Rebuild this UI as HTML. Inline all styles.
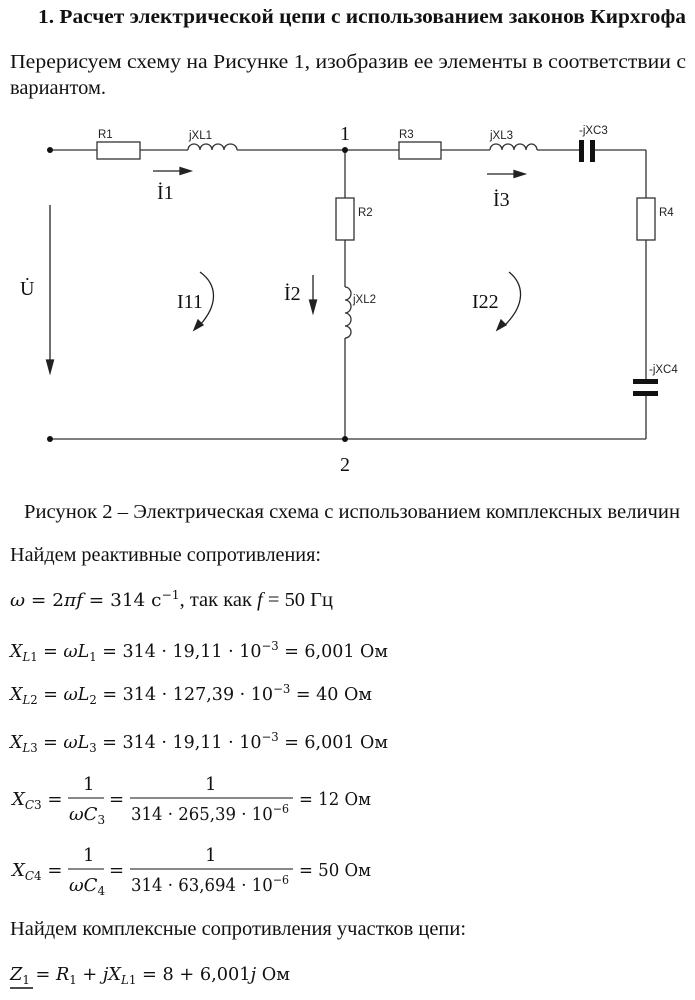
<!DOCTYPE html>
<html><head><meta charset="utf-8"><style>
html,body{margin:0;padding:0;background:#fff;width:695px;height:1000px;overflow:hidden}
svg{display:block}
.t{font-family:"Liberation Serif",serif;font-size:20px;fill:#111}
.m{font-family:"DejaVu Serif","Liberation Serif",serif;font-size:18px;fill:#111}
.s{font-family:"Liberation Sans",sans-serif;font-size:11.5px;fill:#222}
.w{stroke:#333;stroke-width:1.3;fill:none}
</style></head><body>
<svg width="695" height="1000" viewBox="0 0 695 1000">
<text class="t" x="38" y="23" font-weight="bold" textLength="648" lengthAdjust="spacingAndGlyphs">1.  Расчет электрической цепи с использованием законов Кирхгофа</text>
<text class="t" x="10" y="68" textLength="676" lengthAdjust="spacingAndGlyphs">Перерисуем  схему  на  Рисунке  1,  изобразив  ее  элементы  в  соответствии  с</text>
<text class="t" x="10" y="94" textLength="96" lengthAdjust="spacingAndGlyphs">вариантом.</text>

<g class="w">
<line x1="50" y1="150" x2="97" y2="150"/>
<rect x="97" y="142" width="43" height="17"/>
<line x1="140" y1="150" x2="188" y2="150"/>
<path d="M188 150 a6 6 0 0 1 12 0 a6 6 0 0 1 12 0 a6 6 0 0 1 12 0 a6.5 6 0 0 1 13 0"/>
<line x1="237" y1="150" x2="399" y2="150"/>
<rect x="399" y="142" width="42" height="17"/>
<line x1="441" y1="150" x2="490" y2="150"/>
<path d="M490 150 a6 6 0 0 1 12 0 a6 6 0 0 1 12 0 a6 6 0 0 1 12 0 a5.5 6 0 0 1 11 0"/>
<line x1="537" y1="150" x2="581" y2="150"/>
<line x1="592" y1="150" x2="646" y2="150"/>
<line x1="646" y1="150" x2="646" y2="198"/>
<rect x="637" y="198" width="18" height="42"/>
<line x1="646" y1="240" x2="646" y2="382"/>
<line x1="646" y1="394" x2="646" y2="439"/>
<line x1="50" y1="439" x2="646" y2="439"/>
<line x1="345" y1="150" x2="345" y2="198"/>
<rect x="336" y="198" width="18" height="42"/>
<line x1="345" y1="240" x2="345" y2="287"/>
<path d="M345 287 a6 6.5 0 0 1 0 13 a6 6.5 0 0 1 0 13 a6 6.5 0 0 1 0 13 a6 6 0 0 1 0 12"/>
<line x1="345" y1="338" x2="345" y2="439"/>
</g>
<rect x="579" y="140" width="5" height="22" fill="#111"/>
<rect x="590" y="140" width="5" height="22" fill="#111"/>
<rect x="633" y="379" width="25" height="5" fill="#111"/>
<rect x="633" y="391" width="25" height="5" fill="#111"/>
<circle cx="50" cy="150" r="3" fill="#111"/><circle cx="50" cy="439" r="3" fill="#111"/>
<circle cx="345" cy="150" r="3" fill="#111"/><circle cx="345" cy="439" r="3" fill="#111"/>

<text class="s" x="98" y="138">R1</text>
<text class="s" x="189" y="139">jXL1</text>
<text class="s" x="399" y="138">R3</text>
<text class="s" x="490" y="139">jXL3</text>
<text class="s" x="579" y="134">-jXC3</text>
<text class="s" x="358" y="216">R2</text>
<text class="s" x="659" y="216">R4</text>
<text class="s" x="353" y="303">jXL2</text>
<text class="s" x="649" y="373">-jXC4</text>
<text class="t" x="340" y="140" font-size="18">1</text>
<text class="t" x="340" y="471" font-size="18">2</text>

<g stroke="#222" stroke-width="1.3" fill="#222">
<line x1="153" y1="171" x2="180" y2="171"/><path d="M191 171 l-11 -3.5 v7z"/>
<line x1="487" y1="174" x2="514" y2="174"/><path d="M525 174 l-11 -3.5 v7z"/>
<line x1="50" y1="205" x2="50" y2="360"/><path d="M50 373 l-3.5 -13 h7z"/>
<line x1="313" y1="275" x2="313" y2="300"/><path d="M313 313 l-3.5 -13 h7z"/>
<path d="M200 272 C 218 285, 218 305, 200 325" fill="none"/><path d="M194 330 l4 -10 l5 5z"/>
<path d="M509 272 C 525 285, 525 305, 505 325" fill="none"/><path d="M497 330 l4 -10 l5 5z"/>
</g>
<text class="t" x="157" y="199">İ1</text>
<text class="t" x="493" y="206">İ3</text>
<text class="t" x="284" y="300">İ2</text>
<text class="t" x="20" y="295">U̇</text>
<text class="t" x="177" y="308" font-size="19">I11</text>
<text class="t" x="472" y="308" font-size="19">I22</text>

<text class="t" x="24" y="518" textLength="656" lengthAdjust="spacingAndGlyphs">Рисунок 2 – Электрическая схема с использованием комплексных величин</text>
<text class="t" x="10" y="561" textLength="311" lengthAdjust="spacingAndGlyphs">Найдем реактивные сопротивления:</text>

<text class="m" x="10" y="606" textLength="323" lengthAdjust="spacingAndGlyphs"><tspan font-style="italic">ω</tspan> = 2<tspan font-style="italic">πf</tspan> = 314 с<tspan dy="-7" font-size="12">−1</tspan><tspan dy="7" font-family="Liberation Serif" font-size="20">, так как </tspan><tspan font-style="italic" font-family="Liberation Serif" font-size="20">f</tspan><tspan font-family="Liberation Serif" font-size="20"> = 50 Гц</tspan></text>

<text class="m" x="10" y="657" textLength="378" lengthAdjust="spacingAndGlyphs"><tspan font-style="italic">X</tspan><tspan font-style="italic" font-size="12" dy="4">L</tspan><tspan font-size="12">1</tspan><tspan dy="-4"> = </tspan><tspan font-style="italic">ωL</tspan><tspan font-size="12" dy="4">1</tspan><tspan dy="-4"> = 314 · 19,11 · 10</tspan><tspan font-size="12" dy="-7">−3</tspan><tspan dy="7"> = 6,001 Ом</tspan></text>
<text class="m" x="10" y="700" textLength="362" lengthAdjust="spacingAndGlyphs"><tspan font-style="italic">X</tspan><tspan font-style="italic" font-size="12" dy="4">L</tspan><tspan font-size="12">2</tspan><tspan dy="-4"> = </tspan><tspan font-style="italic">ωL</tspan><tspan font-size="12" dy="4">2</tspan><tspan dy="-4"> = 314 · 127,39 · 10</tspan><tspan font-size="12" dy="-7">−3</tspan><tspan dy="7"> = 40 Ом</tspan></text>
<text class="m" x="10" y="748" textLength="378" lengthAdjust="spacingAndGlyphs"><tspan font-style="italic">X</tspan><tspan font-style="italic" font-size="12" dy="4">L</tspan><tspan font-size="12">3</tspan><tspan dy="-4"> = </tspan><tspan font-style="italic">ωL</tspan><tspan font-size="12" dy="4">3</tspan><tspan dy="-4"> = 314 · 19,11 · 10</tspan><tspan font-size="12" dy="-7">−3</tspan><tspan dy="7"> = 6,001 Ом</tspan></text>

<text class="m" x="12" y="805"><tspan font-style="italic">X</tspan><tspan font-style="italic" font-size="12" dy="4">C</tspan><tspan font-size="12">3</tspan><tspan dy="-4"> =</tspan></text>
<text class="m" x="83" y="790">1</text>
<line x1="68" y1="798" x2="104" y2="798" stroke="#111" stroke-width="1"/>
<text class="m" x="69" y="820"><tspan font-style="italic">ωC</tspan><tspan font-size="12" dy="4">3</tspan></text>
<text class="m" x="109" y="805">=</text>
<text class="m" x="205" y="790">1</text>
<line x1="130" y1="798" x2="293" y2="798" stroke="#111" stroke-width="1"/>
<text class="m" x="131" y="820" textLength="158" lengthAdjust="spacingAndGlyphs">314 · 265,39 · 10<tspan font-size="12" dy="-7">−6</tspan></text>
<text class="m" x="299" y="805" textLength="72" lengthAdjust="spacingAndGlyphs">= 12 Ом</text>

<text class="m" x="12" y="876"><tspan font-style="italic">X</tspan><tspan font-style="italic" font-size="12" dy="4">C</tspan><tspan font-size="12">4</tspan><tspan dy="-4"> =</tspan></text>
<text class="m" x="83" y="861">1</text>
<line x1="68" y1="869" x2="104" y2="869" stroke="#111" stroke-width="1"/>
<text class="m" x="69" y="891"><tspan font-style="italic">ωC</tspan><tspan font-size="12" dy="4">4</tspan></text>
<text class="m" x="109" y="876">=</text>
<text class="m" x="205" y="861">1</text>
<line x1="130" y1="869" x2="293" y2="869" stroke="#111" stroke-width="1"/>
<text class="m" x="131" y="891" textLength="158" lengthAdjust="spacingAndGlyphs">314 · 63,694 · 10<tspan font-size="12" dy="-7">−6</tspan></text>
<text class="m" x="299" y="876" textLength="72" lengthAdjust="spacingAndGlyphs">= 50 Ом</text>

<text class="t" x="10" y="935" textLength="456" lengthAdjust="spacingAndGlyphs">Найдем комплексные сопротивления участков цепи:</text>
<text class="m" x="10" y="980" textLength="280" lengthAdjust="spacingAndGlyphs"><tspan font-style="italic">Z</tspan><tspan font-size="12" dy="4">1</tspan><tspan dy="-4"> = </tspan><tspan font-style="italic">R</tspan><tspan font-size="12" dy="4">1</tspan><tspan dy="-4"> + </tspan><tspan font-style="italic">jX</tspan><tspan font-style="italic" font-size="12" dy="4">L</tspan><tspan font-size="12">1</tspan><tspan dy="-4"> = 8 + 6,001</tspan><tspan font-style="italic">j</tspan><tspan> Ом</tspan></text>
<line x1="10" y1="988" x2="33" y2="988" stroke="#111" stroke-width="1.6"/>
</svg>
</body></html>
